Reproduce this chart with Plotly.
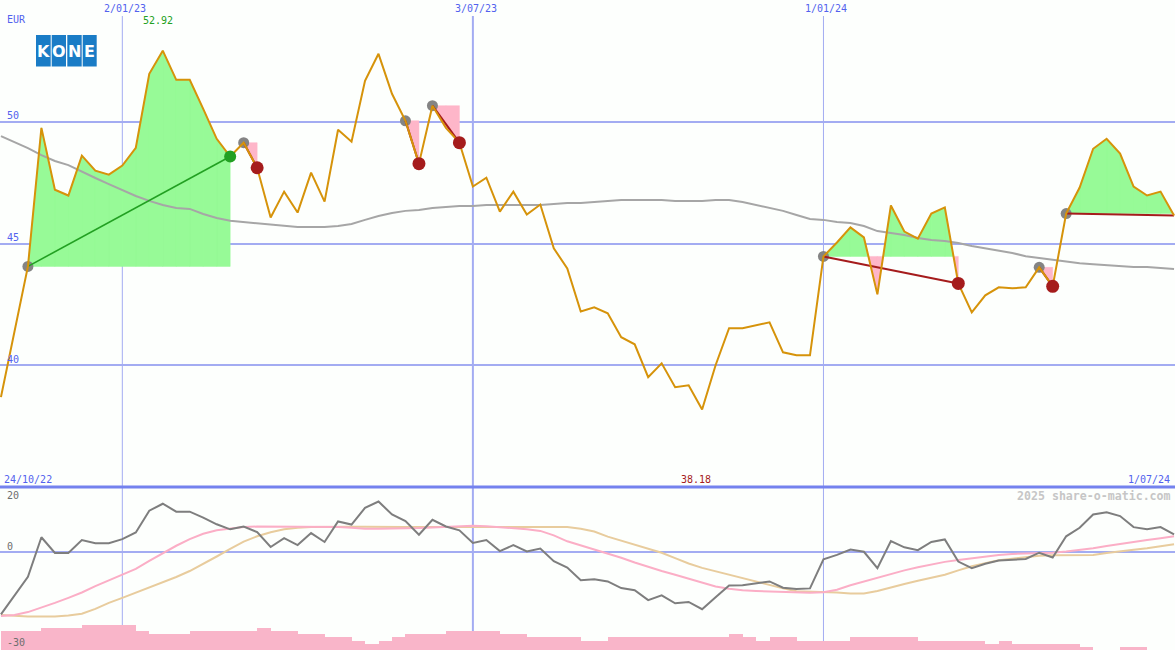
import plotly.graph_objects as go
import pandas as pd

# ---------------- data ----------------
dates = pd.date_range("2022-10-31", periods=88, freq="7D")

price = [38.69, 41.40, 44.06, 49.75, 47.21, 46.97, 48.61, 47.99, 47.83, 48.20,
         48.93, 51.97, 52.92, 51.72, 51.72, 50.53, 49.30, 48.57, 49.14, 48.11,
         46.07, 47.13, 46.27, 47.91, 46.72, 49.67, 49.18, 51.68, 52.79, 51.15,
         50.04, 48.28, 50.66, 49.75, 49.14, 47.34, 47.70, 46.31, 47.13, 46.19,
         46.60, 44.80, 43.98, 42.21, 42.38, 42.13, 41.15, 40.86, 39.51, 40.08,
         39.10, 39.18, 38.18, 40.00, 41.52, 41.52, 41.64, 41.76, 40.53, 40.41,
         40.41, 44.47, 45.04, 45.66, 45.25, 42.91, 46.56, 45.49, 45.20, 46.23,
         46.48, 43.36, 42.17, 42.87, 43.20, 43.16, 43.20, 44.02, 43.24, 46.23,
         47.30, 48.89, 49.30, 48.69, 47.34, 46.97, 47.13, 46.15]

moving_avg = [49.41, 49.17, 48.92, 48.63, 48.39, 48.22, 47.94, 47.69, 47.44, 47.19,
              46.95, 46.75, 46.58, 46.46, 46.42, 46.21, 46.05, 45.93, 45.88, 45.84,
              45.80, 45.76, 45.68, 45.68, 45.68, 45.72, 45.80, 45.97, 46.13, 46.25,
              46.34, 46.38, 46.46, 46.50, 46.54, 46.54, 46.58, 46.58, 46.58, 46.58,
              46.58, 46.62, 46.66, 46.66, 46.70, 46.75, 46.79, 46.79, 46.79, 46.79,
              46.75, 46.75, 46.75, 46.79, 46.79, 46.70, 46.58, 46.46, 46.34, 46.17,
              46.01, 45.97, 45.88, 45.84, 45.72, 45.51, 45.43, 45.35, 45.23, 45.14,
              45.10, 45.02, 44.90, 44.81, 44.73, 44.61, 44.48, 44.40, 44.32, 44.24,
              44.19, 44.15, 44.11, 44.07, 44.03, 44.03, 43.99, 43.95]

momentum = [-19.8, -13.9, -7.9, 4.6, -0.4, -0.4, 3.7, 2.7, 2.7, 4.0,
            6.1, 13.0, 15.2, 12.7, 12.7, 10.8, 8.7, 7.1, 8.0, 6.2,
            1.5, 4.3, 2.1, 5.9, 3.1, 9.6, 8.6, 13.9, 15.9, 11.8,
            9.7, 5.4, 10.1, 8.0, 6.8, 2.8, 3.7, 0.2, 2.1, 0.1,
            1.0, -3.0, -5.0, -9.0, -8.7, -9.4, -11.5, -12.2, -15.3, -13.8,
            -16.3, -15.9, -18.2, -14.4, -10.7, -10.6, -10.1, -9.4, -11.4, -11.8,
            -11.6, -2.4, -1.0, 0.7, 0.0, -5.2, 3.4, 1.4, 0.5, 3.1,
            3.9, -3.1, -5.2, -3.8, -2.8, -2.6, -2.3, -0.3, -1.8, 4.9,
            7.6, 11.8, 12.5, 11.3, 7.8, 7.1, 7.8, 5.5]

signal_fast = [-20.3, -20.0, -19.1, -17.7, -16.2, -14.6, -12.9, -10.9, -9.1, -7.4,
               -5.4, -2.9, -0.4, 1.9, 4.0, 5.7, 6.8, 7.4, 7.8, 8.0,
               8.0, 8.0, 8.0, 7.9, 7.8, 7.8, 7.6, 7.3, 7.3, 7.3,
               7.4, 7.5, 7.7, 7.9, 8.2, 8.2, 8.1, 7.8, 7.6, 7.1,
               6.6, 5.2, 3.3, 2.0, 0.8, -0.4, -1.9, -3.4, -4.8, -6.1,
               -7.3, -8.6, -9.9, -11.0, -11.7, -12.2, -12.4, -12.6, -12.7, -12.8,
               -13.0, -12.8, -12.0, -10.6, -9.4, -8.2, -7.0, -5.9, -4.9, -4.0,
               -3.2, -2.6, -2.0, -1.4, -1.0, -0.7, -0.6, -0.5, -0.3, 0.1,
               0.5, 1.1, 1.8, 2.5, 3.1, 3.7, 4.3, 4.9]

signal_slow = [-20.0, -20.3, -20.5, -20.5, -20.5, -20.2, -19.6, -18.1, -16.2, -14.6,
               -13.0, -11.4, -9.7, -8.0, -6.1, -3.9, -1.5, 0.9, 3.2, 4.9,
               6.2, 7.1, 7.6, 7.8, 7.9, 7.9, 7.9, 7.9, 7.8, 7.8,
               7.8, 7.8, 7.8, 7.8, 7.8, 7.8, 7.8, 7.8, 7.8, 7.8,
               7.8, 7.8, 7.8, 7.3, 6.4, 4.8, 3.5, 2.3, 1.0, -0.3,
               -2.0, -3.7, -5.1, -6.2, -7.2, -8.3, -9.5, -10.6, -11.6, -12.5,
               -12.6, -12.7, -12.9, -13.2, -13.2, -12.4, -11.2, -10.2, -9.2, -8.2,
               -7.3, -5.9, -4.6, -3.6, -2.7, -2.2, -1.7, -1.3, -1.1, -1.0,
               -1.0, -1.0, -0.4, 0.2, 0.6, 1.1, 1.8, 2.4]

volume = [6, 6, 6, 7, 7, 7, 8, 8, 8, 8,
          6, 5, 5, 5, 6, 6, 6, 6, 6, 7,
          6, 6, 5, 5, 4, 4, 3, 2, 3, 4,
          5, 5, 5, 6, 6, 6, 6, 5, 5, 4,
          4, 4, 4, 3, 3, 4, 4, 4, 4, 4,
          4, 4, 4, 4, 5, 4, 3, 4, 4, 3,
          3, 3, 3, 4, 4, 4, 4, 4, 3, 3,
          3, 3, 3, 2, 3, 2, 2, 2, 2, 2,
          1, 0, 0, 1, 1, 0, 0]

entry_idx = [2, 18, 30, 32, 61, 77, 79]
exit_idx = [17, 19, 31, 34, 71, 78, 87]
exit_kind = ["win", "loss", "loss", "loss", "loss", "loss", "open"]

x_tick_dates = ["2023-01-02", "2023-07-03", "2024-01-01"]
x_tick_text = ["2/01/23", "3/07/23", "1/01/24"]
x_tick_width = [1, 2, 1]
start_label = "24/10/22"
end_label = "1/07/24"
price_ticks = [40, 45, 50]
osc_ticks = [20, 0, -30]
currency = "EUR"
watermark = "2025 share-o-matic.com"

# ---------------- styles ----------------
W, H = 1175, 650
SPLIT = 487  # pixel row of the panel separator
BG = "#fdfffd"
GRID = "#a3acf2"
LABEL = "#5262ee"
PRICE_COL = "#d6930a"
MONO = "DejaVu Sans Mono"


def py(pix):
    return 1 - pix / H


def px(pix):
    return pix / W


fig = go.Figure()

# volume bars (bottom of lower panel)
bar_x = [dates[j] + pd.Timedelta(days=3.5) for j in range(len(volume))]
fig.add_trace(go.Bar(x=bar_x, y=volume, width=7 * 86400000, marker=dict(color="#f9b5c9", line=dict(width=0)),
                     xaxis="x2", yaxis="y3", hoverinfo="skip"))

# lower panel lines
fig.add_trace(go.Scatter(x=dates, y=signal_slow, mode="lines", line=dict(color="#e8cc9d", width=2),
                         xaxis="x2", yaxis="y2"))
fig.add_trace(go.Scatter(x=dates, y=signal_fast, mode="lines", line=dict(color="#fbaec6", width=2),
                         xaxis="x2", yaxis="y2"))
fig.add_trace(go.Scatter(x=dates, y=momentum, mode="lines", line=dict(color="#7e7e7e", width=2),
                         xaxis="x2", yaxis="y2"))

# trade fills
up_x, up_y, dn_x, dn_y = [], [], [], []
for e, x in zip(entry_idx, exit_idx):
    L = price[e]
    for j in range(e, x):
        t0, t1 = dates[j], dates[j + 1]
        a, b = price[j] - L, price[j + 1] - L
        if a * b < 0:
            f = a / (a - b)
            tc = t0 + (t1 - t0) * f
            pieces = [(t0, price[j], tc, L), (tc, L, t1, price[j + 1])]
        else:
            pieces = [(t0, price[j], t1, price[j + 1])]
        for ta, pa, tb, pb in pieces:
            xs = [ta, ta, tb, tb, ta, None]
            ys = [L, pa, pb, L, L, None]
            if (pa + pb) / 2 - L >= 0:
                up_x += xs
                up_y += ys
            else:
                dn_x += xs
                dn_y += ys

fig.add_trace(go.Scatter(x=up_x, y=up_y, mode="lines", fill="toself", fillcolor="#97fa97",
                         line=dict(width=0.5, color="#97fa97"), hoverinfo="skip"))
fig.add_trace(go.Scatter(x=dn_x, y=dn_y, mode="lines", fill="toself", fillcolor="#feb6c9",
                         line=dict(width=0.5, color="#feb6c9"), hoverinfo="skip"))

# entry markers
fig.add_trace(go.Scatter(x=[dates[i] for i in entry_idx], y=[price[i] for i in entry_idx], mode="markers",
                         marker=dict(color="#848484", size=11)))

# moving average
fig.add_trace(go.Scatter(x=dates, y=moving_avg, mode="lines", line=dict(color="#a6a6a6", width=2)))

# trade lines
for e, x, k in zip(entry_idx, exit_idx, exit_kind):
    col = "#22a022" if k == "win" else "#a51c1c"
    fig.add_trace(go.Scatter(x=[dates[e], dates[x]], y=[price[e], price[x]], mode="lines",
                             line=dict(color=col, width=1.6 if k == "win" else 2)))

# price line
fig.add_trace(go.Scatter(x=dates, y=price, mode="lines", line=dict(color=PRICE_COL, width=2)))

# exit markers
for e, x, k in zip(entry_idx, exit_idx, exit_kind):
    if k == "open":
        continue
    col = "#22a022" if k == "win" else "#a51c1c"
    fig.add_trace(go.Scatter(x=[dates[x]], y=[price[x]], mode="markers",
                             marker=dict(color=col, size=13 if k == "loss" else 12)))

shapes = []
# vertical date grid lines
for d, w in zip(x_tick_dates, x_tick_width):
    shapes.append(dict(type="line", xref="x", yref="paper", x0=d, x1=d, y0=0, y1=py(16),
                       line=dict(color=GRID, width=w), layer="below"))
# panel separator
shapes.append(dict(type="line", xref="paper", yref="paper", x0=0, x1=1, y0=py(SPLIT), y1=py(SPLIT),
                   line=dict(color="#7482ee", width=3), layer="above"))
# KONE logo cells
for cx0, cx1 in [(36, 50.7), (51.7, 66), (67.3, 81.7), (82.7, 96.7)]:
    shapes.append(dict(type="rect", xref="paper", yref="paper", x0=px(cx0), x1=px(cx1), y0=py(66.5), y1=py(35),
                       fillcolor="#1a7cc6", line=dict(width=0), layer="above"))

ann = []
for d, t in zip(x_tick_dates, x_tick_text):
    ann.append(dict(x=d, y=py(8), xref="x", yref="paper", text=t, showarrow=False, xshift=3,
                    font=dict(family=MONO, size=10, color=LABEL), xanchor="center", yanchor="middle"))
ann.append(dict(x=px(5), y=py(19), xref="paper", yref="paper", text=currency, showarrow=False,
                font=dict(family=MONO, size=10, color=LABEL), xanchor="left", yanchor="middle"))
for v in price_ticks:
    ann.append(dict(x=px(5), y=v, xref="paper", yref="y", text=str(v), showarrow=False, yshift=6,
                    font=dict(family=MONO, size=10, color=LABEL), xanchor="left", yanchor="middle"))
for v, s in zip(osc_ticks, [-7, 5, 4]):
    ann.append(dict(x=px(5), y=v, xref="paper", yref="y2", text=str(v), showarrow=False, yshift=s,
                    font=dict(family=MONO, size=10, color="#6e6e6e"), xanchor="left", yanchor="middle"))
ann.append(dict(x=px(2), y=py(479), xref="paper", yref="paper", text=start_label, showarrow=False,
                font=dict(family=MONO, size=10, color=LABEL), xanchor="left", yanchor="middle"))
ann.append(dict(x=px(1172), y=py(479), xref="paper", yref="paper", text=end_label, showarrow=False,
                font=dict(family=MONO, size=10, color=LABEL), xanchor="right", yanchor="middle"))
imax = price.index(max(price))
imin = price.index(min(price))
ann.append(dict(x=dates[imax], y=py(20), xref="x", yref="paper", text=f"{price[imax]:.2f}", showarrow=False,
                xshift=-5, font=dict(family=MONO, size=10, color="#22a022"), xanchor="center", yanchor="middle"))
ann.append(dict(x=dates[imin], y=py(479), xref="x", yref="paper", text=f"{price[imin]:.2f}", showarrow=False,
                xshift=-6, font=dict(family=MONO, size=10, color="#a51c1c"), xanchor="center", yanchor="middle"))
ann.append(dict(x=px(1173), y=py(496), xref="paper", yref="paper", text=f"<b>{watermark}</b>", showarrow=False,
                font=dict(family=MONO, size=11.6, color="#c6c6c6"), xanchor="right", yanchor="middle"))
for ch, cx in zip("KONE", [43.4, 58.9, 74.5, 89.7]):
    ann.append(dict(x=px(cx), y=py(51), xref="paper", yref="paper", text=f"<b>{ch}</b>", showarrow=False,
                    font=dict(family="DejaVu Sans", size=16, color="white"), xanchor="center", yanchor="middle"))

x_range = ["2022-10-30 12:00", "2024-07-01 12:00"]
dom_split = py(SPLIT)

fig.update_layout(
    width=W, height=H, margin=dict(l=0, r=0, t=0, b=0),
    paper_bgcolor=BG, plot_bgcolor=BG, showlegend=False, bargap=0,
    xaxis=dict(domain=[0, 1], range=x_range, anchor="y", visible=False, showgrid=False),
    xaxis2=dict(domain=[0, 1], range=x_range, anchor="y2", matches="x", visible=False, showgrid=False),
    yaxis=dict(domain=[dom_split, 1], range=[35, 55], tickvals=price_ticks, showgrid=True, gridcolor=GRID,
               gridwidth=2, showticklabels=False, zeroline=False, ticks=""),
    yaxis2=dict(domain=[0, dom_split], range=[-31.1, 20.5], tickvals=[0], showgrid=True, gridcolor=GRID,
                gridwidth=2, showticklabels=False, zeroline=False, ticks=""),
    yaxis3=dict(domain=[0, dom_split], range=[0, 51.6], overlaying="y2", anchor="x2", visible=False),
    shapes=shapes, annotations=ann,
)

fig.write_html("out.html", config={"displayModeBar": False, "staticPlot": True},
               post_script="document.body.style.margin='0';document.body.style.padding='0';")
